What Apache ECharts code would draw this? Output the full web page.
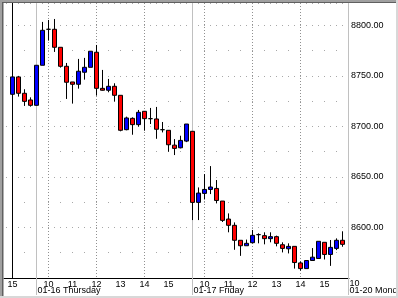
<!DOCTYPE html>
<html>
<head>
<meta charset="utf-8">
<script src="https://cdn.jsdelivr.net/npm/echarts@6/dist/echarts.min.js"></script>
<style>
html,body{margin:0;padding:0;background:#fff;}
#c{width:398px;height:298px;}
</style>
</head>
<body>
<div id="c"></div>
<script>
// 15-minute candles, index 0..55
const opens  = [8731.7,8748.9,8732.7,8726.1,8720.8,8760.4,8796.0,8796.0,8778.2,8759.4,8743.9,8741.6,8753.5,8758.4,8773.3,8737.6,8735.7,8739.6,8730.7,8696.7,8707.9,8701.7,8714.9,8707.6,8707.3,8696.7,8696.1,8681.4,8678.8,8685.4,8695.1,8624.8,8633.7,8637.6,8638.6,8626.1,8608.3,8602.1,8587.3,8581.9,8584.9,8592.9,8591.9,8588.9,8590.9,8582.9,8578.9,8581.3,8564.9,8559.3,8567.3,8569.3,8585.3,8573.3,8579.3,8587.3];
const closes = [8748.9,8732.7,8724.7,8720.8,8760.4,8795.0,8796.0,8778.2,8759.4,8743.6,8741.6,8754.5,8758.4,8774.3,8737.6,8735.7,8739.6,8730.7,8696.1,8708.3,8701.7,8713.9,8707.6,8707.6,8697.1,8696.7,8681.8,8678.2,8686.1,8702.3,8624.8,8634.0,8637.6,8640.0,8626.7,8607.0,8602.1,8587.3,8581.9,8584.3,8592.2,8592.9,8588.9,8590.9,8584.3,8579.3,8581.3,8565.3,8559.3,8567.3,8570.6,8586.3,8573.3,8580.3,8587.3,8583.3];
const lows   = [8731.0,8729.4,8720.2,8719.5,8720.5,8760.4,8784.8,8773.6,8758.1,8727.1,8722.5,8737.3,8746.2,8758.4,8730.4,8735.3,8733.7,8724.4,8695.1,8696.1,8691.7,8699.7,8695.7,8702.3,8687.7,8694.0,8674.9,8671.6,8678.2,8684.4,8607.3,8607.3,8627.7,8633.0,8623.8,8605.4,8595.2,8577.9,8571.9,8581.9,8584.3,8584.3,8583.3,8585.3,8581.3,8575.3,8574.3,8559.3,8557.3,8559.3,8567.3,8569.3,8568.3,8562.0,8577.6,8580.9];
const highs  = [8754.8,8749.9,8736.7,8728.7,8760.4,8803.3,8805.2,8806.2,8778.2,8762.7,8743.9,8766.7,8767.7,8774.3,8780.5,8755.8,8746.9,8742.6,8730.7,8709.6,8708.9,8716.2,8714.9,8718.2,8719.2,8704.3,8696.1,8687.4,8690.7,8702.3,8695.1,8639.6,8652.8,8660.7,8646.9,8626.1,8613.9,8605.0,8587.3,8588.0,8597.5,8594.2,8595.2,8595.2,8591.9,8585.3,8584.3,8581.3,8566.3,8567.3,8579.6,8586.3,8585.3,8587.6,8589.2,8596.2];

// x-axis tick labels (candle index -> hour)
const hourIdx    = [0, 6, 10, 14, 18, 22, 26, 32, 36, 40, 44, 48, 52];
const hourLabels = ['15','10','11','12','13','14','15','10','11','12','13','14','15'];
const gridIdx    = [6, 14, 22, 32, 40, 48];
const dayIdx     = [4, 30, 56];
const dayLabels  = ['01-16 Thursday','01-17 Friday','01-20 Monday'];
const nextDayHourIdx = 57;
const nextDayHourLabel = '10';

// y-axis ticks
const yMin = 8550, yMax = 8822;
const yLabelMin = 8600;

const xMin = -1.4167, xMax = 56.083;

const data = opens.map((o, i) => [i, o, closes[i], lows[i], highs[i]]);
const font = 'Liberation Sans, Arial, sans-serif';

const chart = echarts.init(document.getElementById('c'), null, {renderer: 'canvas'});
chart.setOption({
  animation: false,
  backgroundColor: '#ffffff',
  grid: {left: 4, right: 49, top: 3, bottom: 20, containLabel: false, outerBoundsMode: 'none'},
  xAxis: [
    {
      type: 'value', min: xMin, max: xMax, position: 'bottom',
      axisLine: {show: true, onZero: false, lineStyle: {color: '#000', width: 1}},
      axisTick: {show: false, customValues: gridIdx},
      splitLine: {show: true, lineStyle: {color: '#909090', type: [1, 2]}},
      axisLabel: {
        customValues: hourIdx, margin: 2, fontSize: 9, color: '#000', fontFamily: font,
        formatter: v => { const k = hourIdx.indexOf(Math.round(v)); return k >= 0 ? hourLabels[k] : ''; }
      }
    },
    {
      type: 'value', min: xMin, max: xMax, position: 'bottom',
      axisLine: {show: false, onZero: false},
      axisTick: {show: true, customValues: dayIdx, length: 17, lineStyle: {color: '#c0c0c0'}},
      splitLine: {show: true, lineStyle: {color: '#c0c0c0', type: 'solid'}},
      axisLabel: {
        customValues: dayIdx, margin: 8, fontSize: 9, color: '#000', fontFamily: font, align: 'left',
        padding: [0, 0, 0, 1],
        formatter: v => { const k = dayIdx.indexOf(Math.round(v)); return k >= 0 ? dayLabels[k] : ''; }
      }
    }
  ],
  yAxis: [
    {
      type: 'value', position: 'right', min: yMin, max: yMax, interval: 50,
      axisLine: {show: true, lineStyle: {color: '#000', width: 1}},
      axisTick: {show: false},
      splitLine: {show: true, lineStyle: {color: '#a8a8a8', type: [1, 5], dashOffset: 4}},
      axisLabel: {
        margin: 2, fontSize: 9, color: '#000', fontFamily: font,
        formatter: v => (v % 50 === 0 && v >= yLabelMin) ? v.toFixed(2) : ''
      }
    },
    {
      type: 'value', position: 'left', min: yMin, max: yMax, interval: 25,
      axisLine: {show: false}, axisTick: {show: false}, axisLabel: {show: false},
      splitLine: {show: true, lineStyle: {color: '#a8a8a8', type: [1, 11], dashOffset: 4}}
    }
  ],
  series: [{
    type: 'candlestick',
    xAxisIndex: 0, yAxisIndex: 0,
    encode: {x: 0, y: [1, 2, 3, 4]},
    data: data,
    barWidth: 4,
    itemStyle: {color: '#0000ff', color0: '#ff0000', borderColor: '#000', borderColor0: '#000', borderWidth: 1}
  }]
});

const nx = chart.convertToPixel({xAxisIndex: 0}, nextDayHourIdx);
chart.setOption({
  graphic: [
    {type: 'text', x: nx, y: 279, z: 50, style: {text: nextDayHourLabel, font: '9px ' + font, fill: '#000', align: 'center'}},
    {type: 'rect', z: 100, shape: {x: 0, y: 0, width: 2, height: 298}, style: {fill: '#a0a0a0'}},
    {type: 'rect', z: 100, shape: {x: 2, y: 0, width: 1.5, height: 298}, style: {fill: '#606060'}},
    {type: 'rect', z: 100, shape: {x: 0, y: 0, width: 398, height: 2}, style: {fill: '#a0a0a0'}},
    {type: 'rect', z: 100, shape: {x: 2, y: 2, width: 396, height: 1}, style: {fill: '#606060'}},
    {type: 'rect', z: 100, shape: {x: 396, y: 0, width: 2, height: 298}, style: {fill: '#d8d8d8'}},
    {type: 'rect', z: 100, shape: {x: 0, y: 296, width: 398, height: 2}, style: {fill: '#d8d8d8'}}
  ]
});
</script>
</body>
</html>
